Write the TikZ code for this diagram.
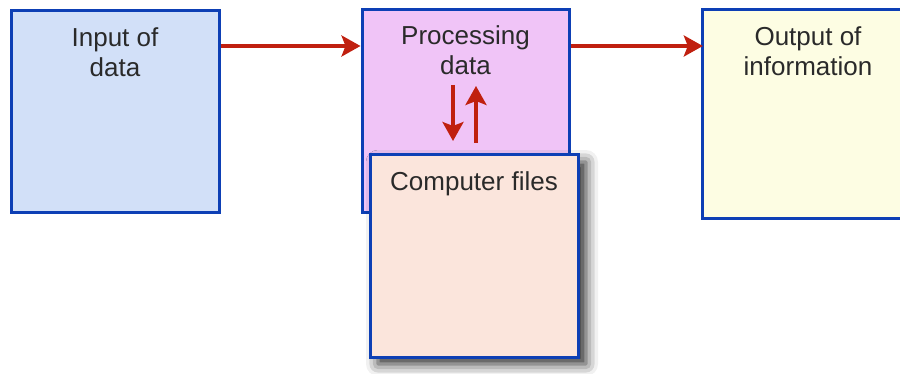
\documentclass[tikz,border=0pt]{standalone}
\usepackage{fontspec}
\setmainfont{Liberation Sans}
\usetikzlibrary{arrows.meta,shadows.blur}

\definecolor{edgeblue}{HTML}{0D3FB5}
\definecolor{flowred}{HTML}{C0200F}
\definecolor{inputfill}{HTML}{D2E0F8}
\definecolor{procfill}{HTML}{F0C4F7}
\definecolor{filesfill}{HTML}{FBE5DC}
\definecolor{outfill}{HTML}{FDFDE3}
\definecolor{inkgray}{HTML}{2A2A2A}

\tikzset{
  stagebox/.style={draw=edgeblue, line width=3pt, rectangle, inner sep=0pt},
  stageedge/.style={draw=edgeblue, line width=3pt, line join=miter},
  boxtext/.style={text=inkgray, font=\fontsize{26}{30}\selectfont, align=center, inner sep=0pt, anchor=north},
  flow/.style={draw=flowred, line width=3.5pt, -{Stealth[length=19pt,width=21pt,inset=4pt]}}
}

\begin{document}
\begin{tikzpicture}[x=1pt,y=-1pt]
  \useasboundingbox (0,0) rectangle (900,374);
  \clip (0,0) rectangle (900,374);

  % three stages of the data flow; the output stage runs off the right edge
  \node[stagebox, fill=inputfill, minimum width=208pt, minimum height=202pt] (input) at (115,112) {};
  \node[stagebox, fill=procfill,  minimum width=207pt, minimum height=203pt] (proc)  at (465.5,111.5) {};
  \node[rectangle, inner sep=0pt, fill=outfill, minimum width=230pt, minimum height=208pt] (output) at (818,114) {};
  \draw[stageedge] (output.north east) -- (output.north west) -- (output.south west) -- (output.south east);

  \node[boxtext] (inputlbl) at ([yshift=-18pt]input.north) {Input of\\data};
  \node[boxtext] (proclbl)  at ([yshift=-17pt]proc.north)  {Processing\\data};
  \node[boxtext] (outlbl)   at ([yshift=-17pt]output.north -| 808,0) {Output of\\information};

  % coordinates for the exchange arrows between processing and files
  \coordinate (downstart) at (453,85);
  \coordinate (downend)   at (453,141);
  \coordinate (upstart)   at (476,143);
  \coordinate (upend)     at (476,86);

  \draw[flow] (downstart) -- (downend);
  \draw[flow] (upstart) -- (upend);

  % stored files, overlapping the processing stage
  \node[stagebox, fill=filesfill, minimum width=208pt, minimum height=202pt,
        blur shadow={shadow xshift=8pt, shadow yshift=-7pt, shadow blur radius=12pt, shadow opacity=85}]
        (files) at (474,256) {};
  \node[boxtext] (fileslbl) at ([yshift=-18pt]files.north) {Computer files};

  % main flow
  \draw[flow] (input.east |- 0,46) -- (proc.west |- 0,46);
  \draw[flow] (proc.east |- 0,46) -- (output.west |- 0,46);
\end{tikzpicture}
\end{document}
